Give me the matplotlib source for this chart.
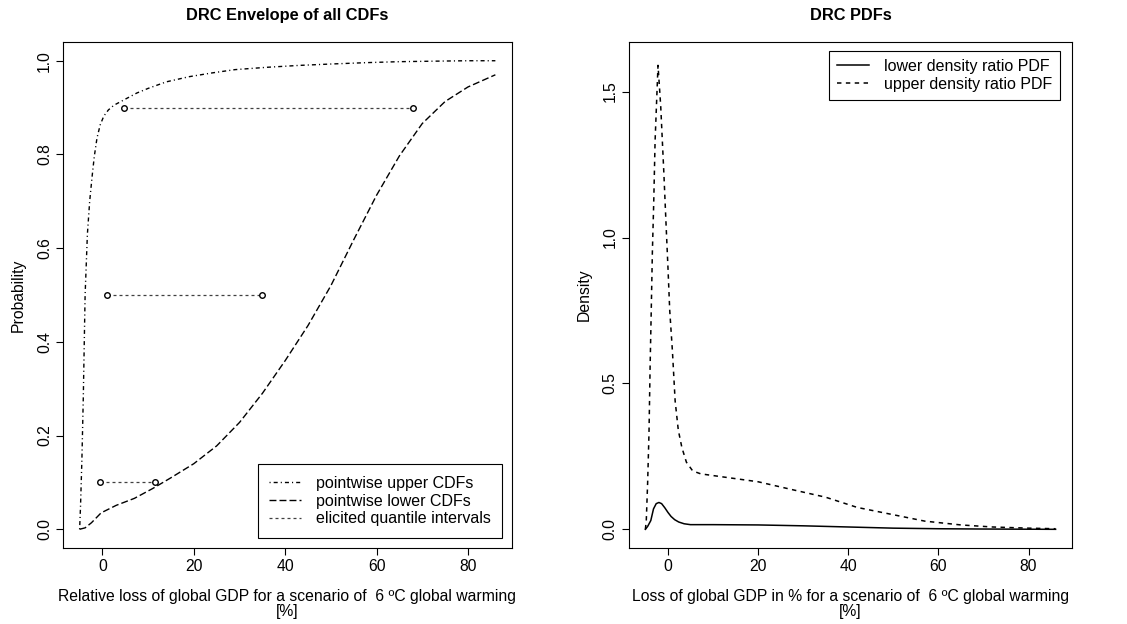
import numpy as np
import matplotlib.pyplot as plt
from matplotlib.lines import Line2D

plt.rcParams['font.family'] = ['Liberation Sans', 'DejaVu Sans']

# pointwise envelope of the CDFs
upper_cdf_x = [-5.0, -4.8, -4.5, -4.2, -3.8, -3.3, -2.8, -2.3, -1.8, -1.2, -0.5, 0.3, 1.3,
               2.5, 5, 7.5, 10, 14, 19, 24, 29, 36, 43, 50, 58, 65, 72, 80, 86]
upper_cdf_p = [0.0, 0.05, 0.15, 0.28, 0.50, 0.63, 0.70, 0.75, 0.795, 0.835, 0.863, 0.882,
               0.895, 0.905, 0.918, 0.931, 0.941, 0.955, 0.966, 0.974, 0.981, 0.986, 0.990,
               0.993, 0.996, 0.998, 0.999, 1.0, 1.0]
lower_cdf_x = [-5.0, -3.8, -2.4, -0.3, 3, 7, 11, 15, 20, 25, 30, 35, 40, 45, 50, 55,
               60, 65, 70, 75, 80, 86]
lower_cdf_p = [0.0, 0.003, 0.014, 0.035, 0.051, 0.066, 0.087, 0.11, 0.14, 0.178, 0.228, 0.29,
               0.36, 0.435, 0.52, 0.618, 0.713, 0.797, 0.866, 0.913, 0.944, 0.97]

# elicited quantiles: probability level, lower and upper bound
q_levels = [0.1, 0.5, 0.9]
q_low = [-0.5, 1.0, 4.8]
q_high = [11.5, 35.0, 68.0]

# density ratio PDFs
pdf_x_up = [-5.0, -4.8, -4.5, -4.2, -3.95, -3.7, -3.45, -3.15, -2.85, -2.2, -1.6, -0.9,
            -0.4, 0.0, 0.4, 1.0, 1.6, 2.3, 3.1, 4.1, 5.5, 7.3, 12, 20, 27, 35, 42, 50, 57,
            65, 72, 80, 86]
pdf_upper = [0.0, 0.03, 0.16, 0.33, 0.56, 0.75, 0.95, 1.12, 1.33, 1.59, 1.45, 1.22, 1.04,
             0.90, 0.75, 0.61, 0.44, 0.34, 0.28, 0.23, 0.20, 0.19, 0.18, 0.163, 0.138,
             0.11, 0.075, 0.05, 0.028, 0.015, 0.008, 0.004, 0.002]
pdf_x_low = [-5.0, -4.5, -3.8, -3.2, -2.6, -2.0, -1.4, -0.7, 0.0, 0.7, 1.5, 2.4, 3.6, 5,
             10, 20, 30, 40, 50, 60, 70, 86]
pdf_lower = [0.0, 0.01, 0.03, 0.07, 0.088, 0.092, 0.088, 0.074, 0.058, 0.044, 0.033,
             0.025, 0.019, 0.016, 0.016, 0.015, 0.012, 0.008, 0.004, 0.002, 0.001, 0.0]

# R-like line types (on/off lengths in points, lw = 1)
DOTDASH = (0, (0.8, 2.2, 2.9, 2.2))
LONGDASH = (0, (5.0, 2.2))
DASHED = (0, (2.9, 2.9))
QDASH = (0, (2.4, 2.4))
FS = 11.3
FS_TITLE = 11.8
FS_LEG = 11.5

fig = plt.figure(figsize=(11.27, 6.24), dpi=100)
ax1 = fig.add_axes([0.0559, 0.1218, 0.3984, 0.8109])
ax2 = fig.add_axes([0.5581, 0.1218, 0.3931, 0.8109])


def r_style(ax):
    for s in ax.spines.values():
        s.set_linewidth(0.8)
    ax.tick_params(direction='out', length=5, width=0.8, labelsize=FS, pad=3)
    for lab in ax.get_yticklabels():
        lab.set_rotation(90)
        lab.set_va('center')


# left panel: envelope of all CDFs
ax1.plot(upper_cdf_x, upper_cdf_p, color='black', lw=1, linestyle=DOTDASH)
ax1.plot(lower_cdf_x, lower_cdf_p, color='black', lw=1, linestyle=LONGDASH)
for q, lo, hi in zip(q_levels, q_low, q_high):
    ax1.plot([lo, hi], [q, q], color='#404040', lw=0.9, linestyle=QDASH)
    ax1.plot([lo, hi], [q, q], linestyle='none', marker='o', ms=4, mfc='white',
             mec='black', mew=1)
ax1.set_xlim(-8.64, 89.64)
ax1.set_ylim(-0.04, 1.04)
ax1.set_xticks([0, 20, 40, 60, 80])
ax1.set_yticks([0.0, 0.2, 0.4, 0.6, 0.8, 1.0])
ax1.set_yticklabels(['0.0', '0.2', '0.4', '0.6', '0.8', '1.0'])
ax1.set_title('DRC Envelope of all CDFs', fontsize=FS_TITLE, fontweight='bold', pad=16)
ax1.set_xlabel('Relative loss of global GDP for a scenario of  6 \u00baC global warming\n[%]',
               fontsize=FS, labelpad=11, linespacing=1.0)
ax1.set_ylabel('Probability', fontsize=FS, labelpad=8)
r_style(ax1)
handles1 = [Line2D([], [], color='black', lw=1, linestyle=DOTDASH),
            Line2D([], [], color='black', lw=1, linestyle=LONGDASH),
            Line2D([], [], color='#404040', lw=0.9, linestyle=QDASH)]
leg1 = ax1.legend(handles1, ['pointwise upper CDFs', 'pointwise lower CDFs',
                             'elicited quantile intervals'],
                  loc='lower right', bbox_to_anchor=(0.978, 0.02), borderaxespad=0,
                  fontsize=FS_LEG, fancybox=False, edgecolor='black', framealpha=1,
                  handlelength=1.95, handletextpad=0.95, labelspacing=0.18,
                  borderpad=0.72)
leg1.get_frame().set_linewidth(0.8)

# right panel: lower and upper density ratio PDFs
ax2.plot(pdf_x_low, pdf_lower, color='black', lw=1.1, linestyle='-')
ax2.plot(pdf_x_up, pdf_upper, color='black', lw=1.1, linestyle=DASHED)
ax2.set_xlim(-8.64, 89.64)
ax2.set_ylim(-0.064, 1.67)
ax2.set_xticks([0, 20, 40, 60, 80])
ax2.set_yticks([0.0, 0.5, 1.0, 1.5])
ax2.set_yticklabels(['0.0', '0.5', '1.0', '1.5'])
ax2.set_title('DRC PDFs', fontsize=FS_TITLE, fontweight='bold', pad=16)
ax2.set_xlabel('Loss of global GDP in % for a scenario of  6 \u00baC global warming\n[%]',
               fontsize=FS, labelpad=11, linespacing=1.0)
ax2.set_ylabel('Density', fontsize=FS, labelpad=8)
r_style(ax2)
leg2 = ax2.legend(['lower density ratio PDF', 'upper density ratio PDF'],
                  loc='upper right', bbox_to_anchor=(0.973, 0.982), borderaxespad=0,
                  fontsize=FS_LEG, fancybox=False, edgecolor='black', framealpha=1,
                  handlelength=1.95, handletextpad=0.95, labelspacing=0.18,
                  borderpad=0.5)
leg2.get_frame().set_linewidth(0.8)

fig.savefig('out.png', dpi=100)
